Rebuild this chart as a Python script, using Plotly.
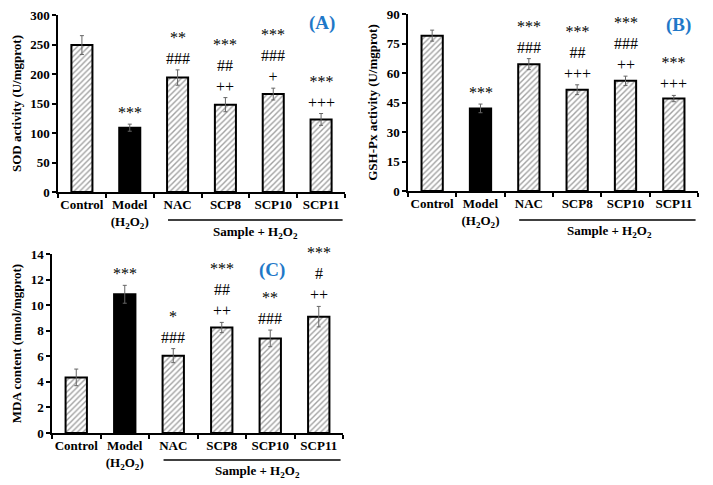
import plotly.graph_objects as go

categories = ["Control", "Model", "NAC", "SCP8", "SCP10", "SCP11"]
tick_labels = ["Control", "Model<br>(H<sub>2</sub>O<sub>2</sub>)", "NAC", "SCP8", "SCP10", "SCP11"]

sod_values = [249, 109, 194, 148, 166, 123]
sod_errors = [16, 6, 13, 12, 10, 10]
sod_marks = ["", "***", "**<br>###", "***<br>##<br>++", "***<br>###<br>+", "***<br>+++"]

gsh_values = [79, 42, 64.5, 51.5, 56, 47]
gsh_errors = [2.8, 2.2, 2.8, 2.5, 2.4, 1.6]
gsh_marks = ["", "***", "***<br>###", "***<br>##<br>+++", "***<br>###<br>++", "***<br>+++"]

mda_values = [4.35, 10.85, 6.05, 8.25, 7.4, 9.1]
mda_errors = [0.65, 0.7, 0.55, 0.4, 0.65, 0.8]
mda_marks = ["", "***", "*<br>###", "***<br>##<br>++", "**<br>###", "***<br>#<br>++"]

panel_labels = ["(A)", "(B)", "(C)"]
y_titles = ["SOD activity (U/mgprot)", "GSH-Px activity (U/mgprot)", "MDA content (nmol/mgprot)"]
group_label = "Sample + H<sub>2</sub>O<sub>2</sub>"

W, H = 713, 485
SERIF = "Liberation Serif"


def px(x):
    return x / W


def py(y):
    return 1 - y / H


# panel geometry in window pixels: (x0, x1, ybottom, ytop)
panels = [(58, 345, 192, 15), (408, 698, 191, 14), (52, 343, 433, 254)]
ranges = [(300, 50), (90, 15), (14, 2)]
label_pos = [(322, 23), (678, 25), (272, 270)]
group_pos = [(220, 232, 255), (220, 231, 609), (460, 471, 257)]

series = [(sod_values, sod_errors, sod_marks),
          (gsh_values, gsh_errors, gsh_marks),
          (mda_values, mda_errors, mda_marks)]

fig = go.Figure()
colors = ["white" if c != "Model" else "black" for c in categories]
shapes_pat = ["/" if c != "Model" else "" for c in categories]

annotations = []
shapes = []
for i, ((vals, errs, marks), (x0, x1, yb, yt)) in enumerate(zip(series, panels)):
    n = "" if i == 0 else str(i + 1)
    fig.add_trace(go.Bar(
        x=categories, y=vals,
        xaxis="x" + n, yaxis="y" + n,
        width=0.44,
        marker=dict(color=colors, line=dict(color="black", width=2),
                    pattern=dict(shape=shapes_pat, fgcolor="#222", bgcolor="white",
                                 size=4, solidity=0.35)),
        error_y=dict(type="data", array=errs, visible=True, color="#666",
                     thickness=1, width=2),
        showlegend=False,
    ))
    ymax, dt = ranges[i]
    axis_font = dict(family=SERIF, size=13, color="black", weight="bold")
    fig.layout["xaxis" + n] = dict(
        domain=[px(x0), px(x1)], anchor="y" + n, automargin=False,
        range=[-0.5, 5.5], tickmode="array", tickvals=categories, ticktext=tick_labels,
        tickangle=0,
        tickson="boundaries", ticks="outside", ticklen=4, tickwidth=1.5, tickcolor="black",
        showline=True, linecolor="black", linewidth=1.5, showgrid=False,
        tickfont=axis_font, fixedrange=True,
    )
    fig.layout["yaxis" + n] = dict(
        domain=[py(yb), py(yt)], anchor="x" + n, automargin=False,
        range=[0, ymax], dtick=dt, tick0=0,
        ticks="outside", ticklen=4, tickwidth=1.5, tickcolor="black",
        showline=True, linecolor="black", linewidth=1.5, showgrid=False, zeroline=False,
        tickfont=axis_font, fixedrange=True,
        title=dict(text=y_titles[i], font=dict(family=SERIF, size=13, color="black", weight="bold"),
                   standoff=6),
    )
    for c, v, e, m in zip(categories, vals, errs, marks):
        if m:
            annotations.append(dict(
                x=c, y=v + e, xref="x" + n, yref="y" + n, text=m, showarrow=False,
                yanchor="bottom", xanchor="center", yshift=1, opacity=0.99,
                font=dict(family=SERIF, size=16, color="black"),
            ))
    lx, ly = label_pos[i]
    annotations.append(dict(x=px(lx), y=py(ly), xref="paper", yref="paper",
                            xanchor="center", yanchor="middle",
                            text=panel_labels[i], showarrow=False,
                            font=dict(family=SERIF, size=19, color="#1F78C8", weight="bold")))
    gly, gty, gtx = group_pos[i]
    shapes.append(dict(type="line", xref="x" + n, yref="paper",
                       x0=1.8, x1=5.45, y0=py(gly), y1=py(gly),
                       line=dict(color="black", width=1.5)))
    annotations.append(dict(x=px(gtx), y=py(gty), xref="paper", yref="paper",
                            xanchor="center", yanchor="middle",
                            text=group_label, showarrow=False,
                            font=dict(family=SERIF, size=13, color="black", weight="bold")))

fig.update_layout(
    width=W, height=H, margin=dict(l=0, r=0, t=0, b=0, pad=0, autoexpand=False),
    paper_bgcolor="white", plot_bgcolor="white",
    annotations=annotations, shapes=shapes, bargap=0.5,
)
fig.write_html("out.html", config={"displayModeBar": False},
               post_script="document.body.style.margin='0';document.body.style.overflow='hidden';")
